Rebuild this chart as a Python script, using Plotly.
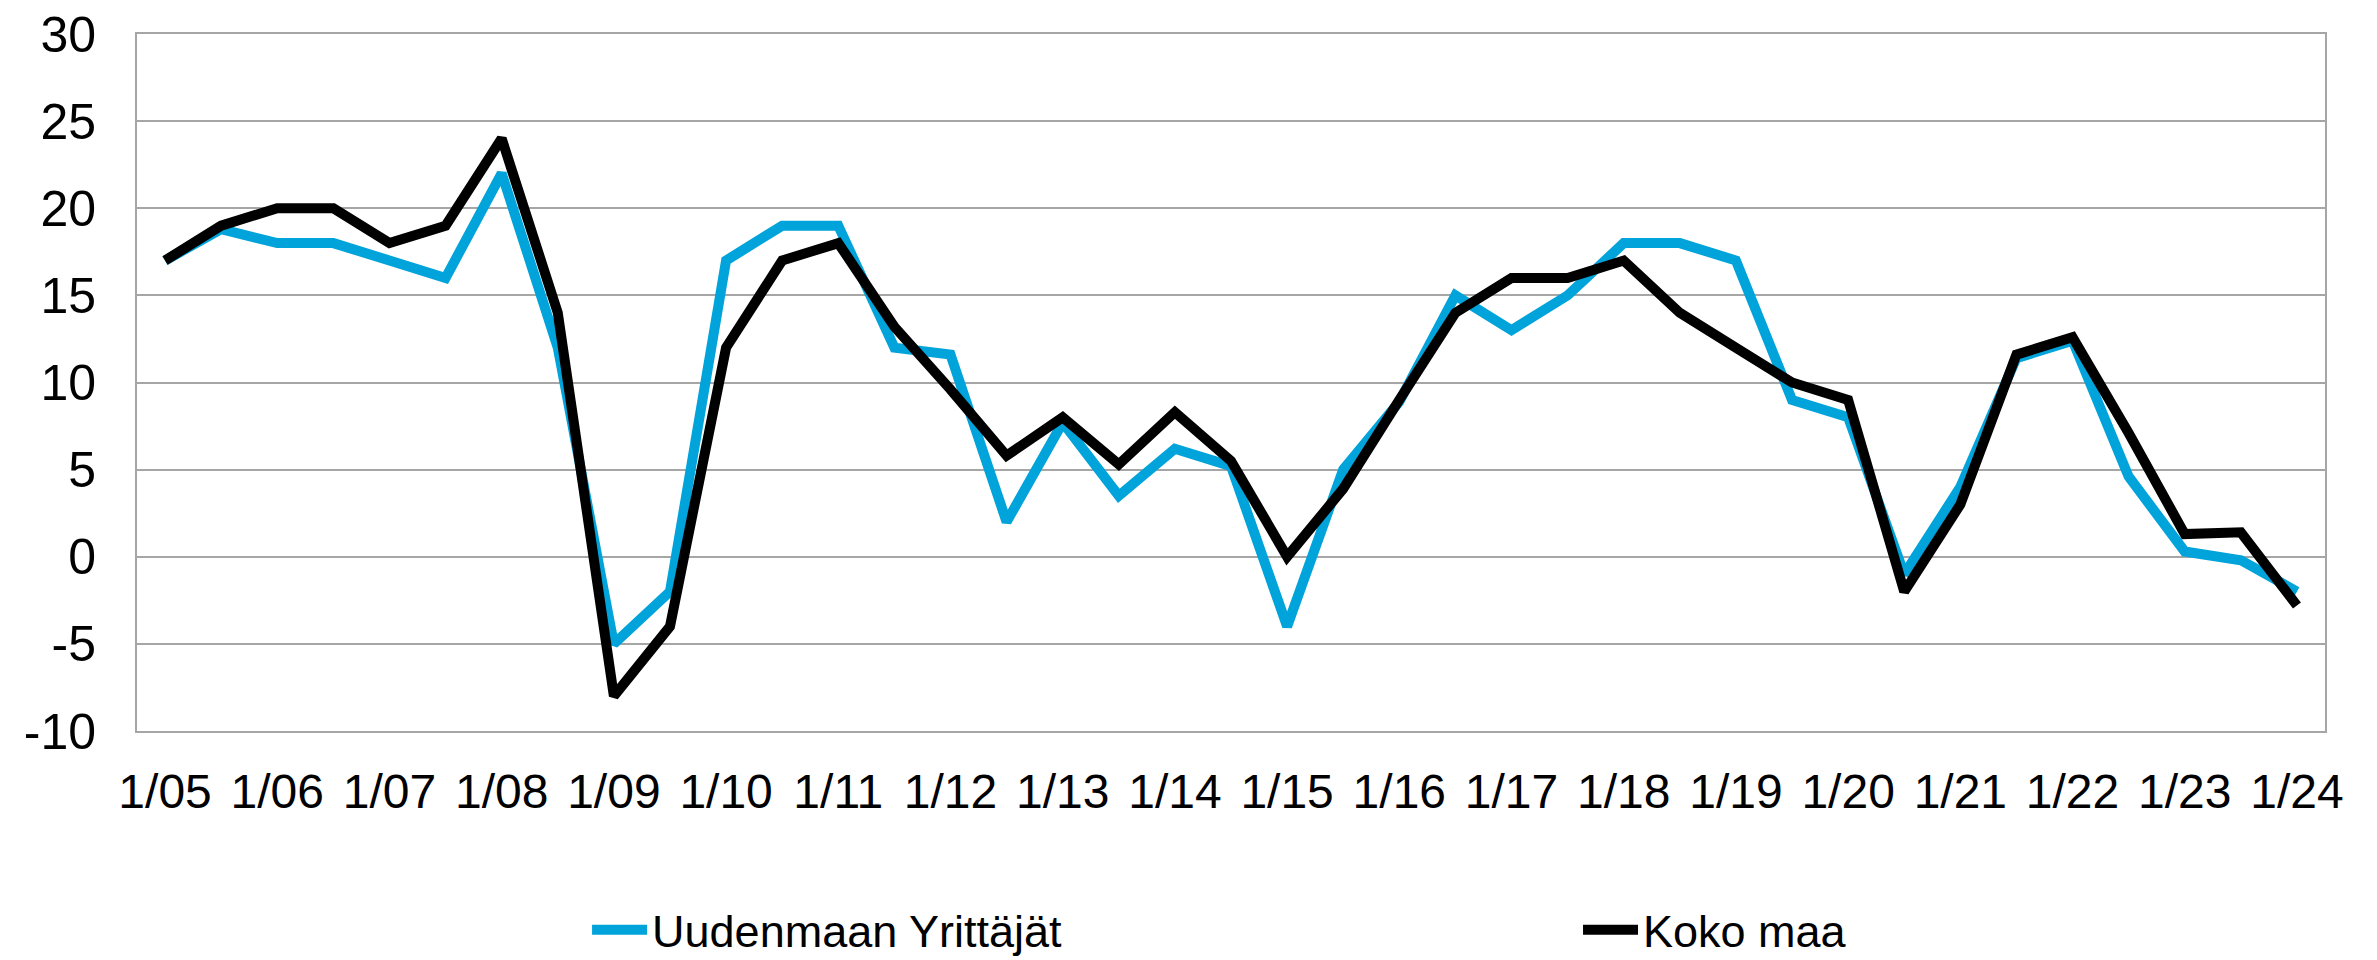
import plotly.graph_objects as go

years = [f"{y:02d}" for y in range(5, 25)]
categories = []
for y in years:
    categories.append(f"1/{y}")
    if y != "24":
        categories.append(f"7/{y}")
tick_labels = [f"1/{y}" for y in years]
y_ticks = [-10, -5, 0, 5, 10, 15, 20, 25, 30]
y_tick_text = [str(v) for v in y_ticks]

uusimaa = [17, 18.8, 18, 18, 17, 16, 22, 12, -5, -2,
           17, 19, 19, 12, 11.6, 2, 7.7, 3.5, 6.2, 5.2,
           -4, 5, 8.9, 15, 13, 15, 18, 18, 17, 9,
           8, -1, 4, 11.4, 12.4, 4.6, 0.3, -0.2, -2]
koko_maa = [17, 19, 20, 20, 18, 19, 24, 14, -8, -4,
            12, 17, 18, 13.2, 9.6, 5.8, 8, 5.3, 8.3, 5.5,
            0, 3.9, 9, 14, 16, 16, 17, 14, 12, 10,
            9, -2, 3, 11.6, 12.6, 7.1, 1.3, 1.4, -2.8]

FONT = "Liberation Sans, Arial, sans-serif"
GRID = "#a6a6a6"

fig = go.Figure()
fig.add_trace(go.Scatter(x=categories, y=uusimaa, mode="lines", name="Uudenmaan Yrittäjät",
                         line=dict(color="#00A3DA", width=10), legend="legend"))
fig.add_trace(go.Scatter(x=categories, y=koko_maa, mode="lines", name="Koko maa",
                         line=dict(color="#000000", width=10), legend="legend2"))

leg_common = dict(orientation="h", y=-0.3372, yanchor="bottom", xanchor="left", itemwidth=55,
                  font=dict(size=45, family=FONT, color="black"), bgcolor="rgba(0,0,0,0)")

fig.update_layout(
    width=2377, height=960,
    margin=dict(l=129, r=60, t=26, b=237, autoexpand=False),
    plot_bgcolor="white", paper_bgcolor="white",
    font=dict(family=FONT, size=48, color="black"),
    showlegend=True,
    legend=dict(x=0.2057, **leg_common),
    legend2=dict(x=0.6586, **leg_common),
    xaxis=dict(type="category", categoryorder="array", categoryarray=categories,
               tickvals=tick_labels, ticktext=tick_labels, automargin=False,
               showgrid=False, showline=True, linecolor=GRID, linewidth=2, mirror=True,
               ticks="", tickfont=dict(size=48), ticklabelstandoff=17,
               ticklabeloverflow="allow",
               range=[-0.5, len(categories) - 0.5]),
    yaxis=dict(range=[-10, 30], tickvals=y_ticks, ticktext=y_tick_text, automargin=False,
               showgrid=True, gridcolor=GRID, gridwidth=2,
               showline=True, linecolor=GRID, linewidth=2, mirror=True, zeroline=False,
               ticks="", tickfont=dict(size=50), ticklabelstandoff=29,
               ticklabeloverflow="allow"),
)

fig.write_html("out.html")
